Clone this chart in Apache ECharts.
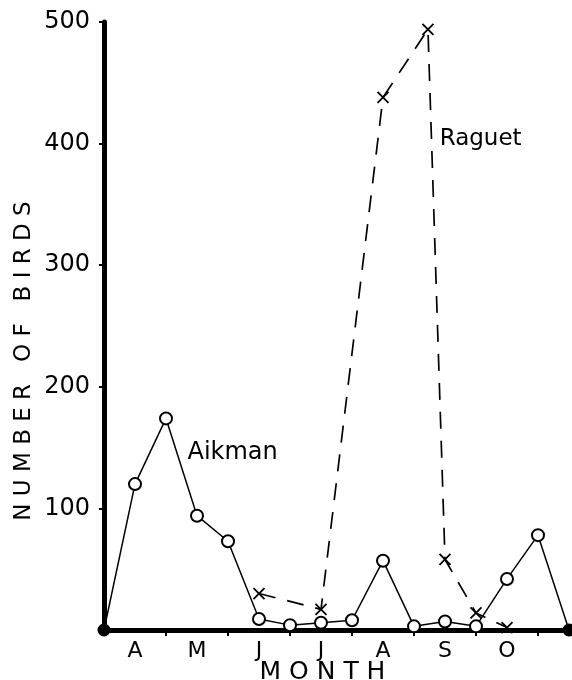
<!DOCTYPE html>
<html>
<head>
<meta charset="utf-8">
<script src="https://cdn.jsdelivr.net/npm/echarts@6/dist/echarts.min.js"></script>
<style>
html,body{margin:0;padding:0;background:#fff;}
#chart{width:572px;height:680px;}
</style>
</head>
<body>
<div id="chart"></div>
<script>
// Half-month positions: 0 = 1 April, 1 = mid April, 2 = 1 May, ...
const monthLabels = ['A', 'M', 'J', 'J', 'A', 'S', 'O'];
const monthLabelPositions = [1, 3, 5, 7, 9, 11, 13];
const monthTickPositions = [2, 4, 6, 8, 10, 12, 14];
const yTicks = [0, 100, 200, 300, 400, 500];

const aikmanX = [0, 1, 2, 3, 4, 5, 6, 7, 8, 9, 10, 11, 12, 13, 14, 15];
const aikmanY = [0, 120, 174, 94, 73, 9, 4, 6, 8, 57, 3, 7, 3, 42, 78, 0];

const raguetX = [5, 7, 9, 10.45, 11, 12, 13];
const raguetY = [30, 17, 438, 494, 58, 14, 2];

const FONT = 'DejaVu Sans';

const aikmanData = aikmanX.map((x, i) => {
  const item = { value: [x, aikmanY[i]] };
  if (i === 0 || i === aikmanX.length - 1) {
    item.symbolSize = 11;
    item.itemStyle = { color: '#000', borderColor: '#000' };
  }
  return item;
});
const raguetData = raguetX.map((x, i) => [x, raguetY[i]]);

const chart = echarts.init(document.getElementById('chart'), null, { renderer: 'canvas' });
chart.setOption({
  backgroundColor: '#fff',
  animation: false,
  grid: { left: 104, right: 3, top: 22, bottom: 50, containLabel: false, outerBoundsMode: 'none' },
  xAxis: {
    type: 'value',
    min: 0,
    max: 15,
    name: 'M O N T H',
    nameLocation: 'middle',
    nameGap: 30,
    nameMoveOverlap: false,
    nameTextStyle: { fontFamily: FONT, fontSize: 25, color: '#000', padding: [0, 28, 0, 0] },
    splitLine: { show: false },
    axisLine: { show: true, onZero: false, lineStyle: { color: '#000', width: 5 } },
    axisTick: { show: true, inside: false, length: 6, customValues: monthTickPositions,
      lineStyle: { color: '#000', width: 2 } },
    axisLabel: {
      show: true,
      customValues: monthLabelPositions,
      margin: 10,
      fontFamily: FONT, fontSize: 22, color: '#000',
      formatter: v => monthLabels[monthLabelPositions.indexOf(Math.round(v))] || ''
    }
  },
  yAxis: {
    type: 'value',
    min: 0,
    max: 500,
    interval: 100,
    name: 'N U M B E R   O F   B I R D S',
    nameLocation: 'middle',
    nameGap: 68,
    nameMoveOverlap: false,
    nameRotate: 90,
    nameTextStyle: { fontFamily: FONT, fontSize: 23, color: '#000', padding: [0, 70, 0, 0] },
    splitLine: { show: false },
    axisLine: { show: true, lineStyle: { color: '#000', width: 5 } },
    axisTick: { show: true, length: 5, lineStyle: { color: '#000', width: 2 } },
    axisLabel: {
      margin: 14,
      fontFamily: FONT, fontSize: 24, color: '#000',
      formatter: v => (v === 0 ? '' : String(v))
    }
  },
  series: [
    {
      name: 'Aikman',
      type: 'line',
      data: aikmanData,
      symbol: 'circle',
      symbolSize: 12,
      showAllSymbol: true,
      lineStyle: { color: '#000', width: 1.5 },
      itemStyle: { color: '#fff', borderColor: '#000', borderWidth: 2 },
      z: 3,
      markPoint: {
        symbol: 'circle',
        symbolSize: 0,
        label: { show: true, position: 'inside', formatter: 'Aikman',
          fontFamily: FONT, fontSize: 24, color: '#000' },
        data: [{ coord: [4.15, 146] }]
      }
    },
    {
      name: 'Raguet',
      type: 'line',
      data: raguetData,
      symbol: 'path://M0,0L10,10M10,0L0,10',
      symbolSize: 11,
      showAllSymbol: true,
      lineStyle: { color: '#000', width: 1.7, type: [17, 12] },
      itemStyle: { color: 'rgba(0,0,0,0)', borderColor: '#000', borderWidth: 1.8 },
      z: 2,
      markPoint: {
        symbol: 'circle',
        symbolSize: 0,
        label: { show: true, position: 'inside', formatter: 'Raguet',
          fontFamily: FONT, fontSize: 23, color: '#000' },
        data: [{ coord: [12.15, 404] }]
      }
    }
  ]
});
</script>
</body>
</html>
